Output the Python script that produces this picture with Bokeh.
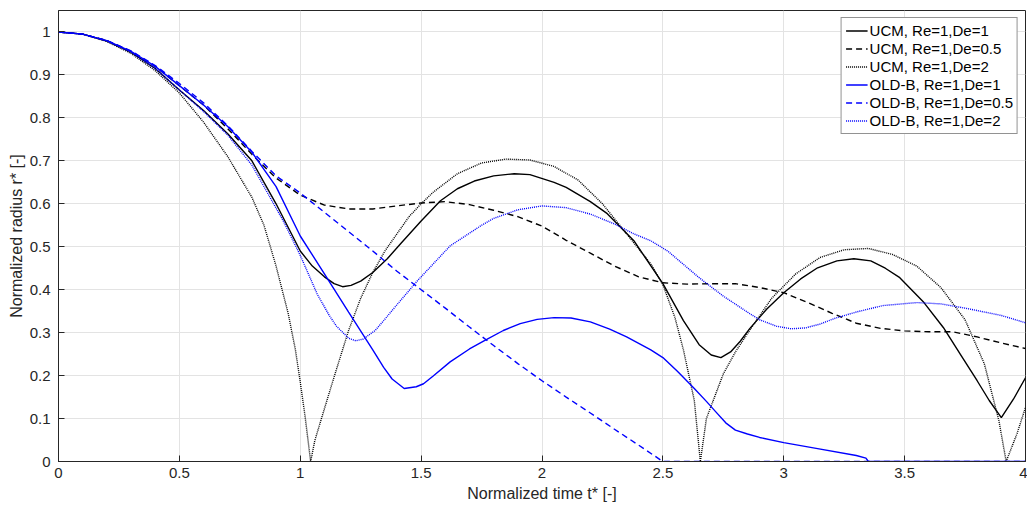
from bokeh.plotting import figure
from bokeh.models import Range1d, FixedTicker
from bokeh.embed import file_html
from bokeh.resources import INLINE

# ---------------- data ----------------
t_ucm_de1 = [0, 0.1, 0.2, 0.3, 0.4, 0.5, 0.6, 0.7, 0.8, 0.9, 1.0, 1.05, 1.1, 1.14, 1.175, 1.21, 1.25, 1.3,
             1.36, 1.415, 1.5, 1.58, 1.65, 1.72, 1.8, 1.885, 1.95, 2.05, 2.1, 2.2, 2.27, 2.38, 2.5, 2.585,
             2.65, 2.7, 2.74, 2.78, 2.82, 2.86, 2.93, 3.0, 3.07, 3.14, 3.22, 3.29, 3.36, 3.42, 3.48, 3.58,
             3.66, 3.73, 3.8, 3.85, 3.9, 3.95, 4.0]
r_ucm_de1 = [1.0, 0.995, 0.979, 0.953, 0.915, 0.865, 0.817, 0.763, 0.700, 0.600, 0.490, 0.455, 0.430,
             0.414, 0.407, 0.410, 0.420, 0.440, 0.472, 0.507, 0.560, 0.607, 0.635, 0.653, 0.665, 0.670,
             0.668, 0.650, 0.638, 0.605, 0.577, 0.514, 0.414, 0.328, 0.272, 0.248, 0.242, 0.255, 0.280,
             0.310, 0.355, 0.393, 0.425, 0.451, 0.467, 0.472, 0.467, 0.450, 0.428, 0.370, 0.312, 0.250,
             0.188, 0.142, 0.102, 0.145, 0.195]

t_ucm_de05 = [0, 0.1, 0.2, 0.3, 0.4, 0.5, 0.6, 0.7, 0.8, 0.9, 1.0, 1.1, 1.2, 1.3, 1.4, 1.5, 1.6, 1.7, 1.8,
              1.9, 2.0, 2.1, 2.2, 2.3, 2.4, 2.5, 2.6, 2.7, 2.8, 2.9, 3.0, 3.1, 3.2, 3.3, 3.4, 3.5, 3.6,
              3.7, 3.8, 3.9, 4.0]
r_ucm_de05 = [1.0, 0.995, 0.980, 0.955, 0.920, 0.875, 0.830, 0.775, 0.715, 0.660, 0.620, 0.597, 0.588,
              0.588, 0.595, 0.602, 0.605, 0.598, 0.585, 0.570, 0.548, 0.515, 0.485, 0.455, 0.430, 0.416,
              0.413, 0.414, 0.414, 0.405, 0.393, 0.370, 0.345, 0.322, 0.310, 0.304, 0.302, 0.302, 0.290,
              0.276, 0.263]

t_ucm_de2 = [0, 0.1, 0.2, 0.3, 0.4, 0.5, 0.6, 0.7, 0.8, 0.85, 0.9, 0.95, 0.98, 1.0, 1.02, 1.043, 1.06,
             1.085, 1.12, 1.15, 1.2, 1.25, 1.3, 1.35, 1.4, 1.45, 1.5, 1.55, 1.65, 1.75, 1.85, 1.95, 2.05,
             2.15, 2.25, 2.35, 2.45, 2.5, 2.55, 2.585, 2.63, 2.655, 2.68, 2.75, 2.8, 2.85, 2.95, 3.05,
             3.15, 3.25, 3.35, 3.45, 3.55, 3.65, 3.75, 3.83, 3.89, 3.92, 3.965, 4.0]
r_ucm_de2 = [1.0, 0.995, 0.978, 0.950, 0.910, 0.858, 0.790, 0.710, 0.615, 0.550, 0.455, 0.345, 0.260,
             0.185, 0.105, 0.0, 0.048, 0.095, 0.160, 0.215, 0.305, 0.380, 0.440, 0.490, 0.530, 0.570,
             0.600, 0.627, 0.670, 0.695, 0.704, 0.702, 0.687, 0.655, 0.600, 0.530, 0.460, 0.412, 0.335,
             0.260, 0.142, 0.0, 0.100, 0.204, 0.255, 0.298, 0.380, 0.437, 0.475, 0.493, 0.496, 0.482,
             0.455, 0.405, 0.330, 0.227, 0.095, 0.0, 0.065, 0.126]

t_old_de1 = [0, 0.1, 0.2, 0.3, 0.4, 0.5, 0.6, 0.7, 0.8, 0.9, 1.0, 1.1, 1.2, 1.3, 1.345, 1.38, 1.43, 1.48,
             1.51, 1.55, 1.62, 1.7, 1.76, 1.84, 1.91, 1.98, 2.05, 2.12, 2.2, 2.28, 2.35, 2.45, 2.5, 2.56,
             2.63, 2.68, 2.72, 2.76, 2.8, 2.85, 2.9, 3.0, 3.14, 3.3, 3.34, 3.35, 4.0]
r_old_de1 = [1.0, 0.995, 0.980, 0.955, 0.920, 0.875, 0.830, 0.780, 0.720, 0.640, 0.525, 0.437, 0.348,
             0.260, 0.219, 0.192, 0.170, 0.174, 0.181, 0.199, 0.232, 0.262, 0.281, 0.305, 0.321, 0.331,
             0.335, 0.334, 0.325, 0.308, 0.290, 0.260, 0.242, 0.210, 0.170, 0.140, 0.115, 0.090, 0.073,
             0.064, 0.056, 0.044, 0.030, 0.014, 0.008, 0.0, 0.0]

t_old_de05 = [0, 0.1, 0.2, 0.3, 0.4, 0.5, 0.6, 0.7, 0.8, 0.9, 1.0, 1.1, 1.2, 1.3, 1.4, 1.5, 1.6, 1.7,
              1.8, 1.9, 2.0, 2.1, 2.2, 2.3, 2.4, 2.5, 4.0]
r_old_de05 = [1.0, 0.995, 0.980, 0.956, 0.922, 0.880, 0.835, 0.782, 0.722, 0.665, 0.625, 0.580, 0.535,
              0.490, 0.443, 0.400, 0.357, 0.313, 0.270, 0.228, 0.188, 0.150, 0.113, 0.075, 0.038, 0.0, 0.0]

t_old_de2 = [0, 0.1, 0.2, 0.3, 0.4, 0.5, 0.6, 0.7, 0.8, 0.93, 1.0, 1.07, 1.12, 1.15, 1.2, 1.23, 1.26,
             1.31, 1.345, 1.4, 1.485, 1.62, 1.75, 1.8, 1.9, 2.0, 2.1, 2.2, 2.3, 2.38, 2.45, 2.52, 2.65,
             2.75, 2.86, 2.9, 2.97, 3.03, 3.09, 3.15, 3.21, 3.3, 3.41, 3.55, 3.65, 3.76, 3.9, 4.0]
r_old_de2 = [1.0, 0.995, 0.979, 0.953, 0.915, 0.865, 0.815, 0.760, 0.690, 0.560, 0.480, 0.390, 0.340,
             0.315, 0.287, 0.281, 0.285, 0.305, 0.328, 0.365, 0.421, 0.502, 0.550, 0.566, 0.586, 0.595,
             0.591, 0.576, 0.553, 0.530, 0.514, 0.490, 0.428, 0.385, 0.344, 0.330, 0.315, 0.309, 0.311,
             0.320, 0.333, 0.348, 0.363, 0.370, 0.367, 0.356, 0.340, 0.323]

series_labels = ["UCM, Re=1,De=1", "UCM, Re=1,De=0.5", "UCM, Re=1,De=2",
                 "OLD-B, Re=1,De=1", "OLD-B, Re=1,De=0.5", "OLD-B, Re=1,De=2"]

x_ticks = [0, 0.5, 1, 1.5, 2, 2.5, 3, 3.5, 4]
x_tick_labels = ["0", "0.5", "1", "1.5", "2", "2.5", "3", "3.5", "4"]
y_ticks = [0, 0.1, 0.2, 0.3, 0.4, 0.5, 0.6, 0.7, 0.8, 0.9, 1.0]
y_tick_labels = ["0", "0.1", "0.2", "0.3", "0.4", "0.5", "0.6", "0.7", "0.8", "0.9", "1"]

# ---------------- figure ----------------
FONT = "Liberation Sans"
AX = "#262626"
GRID = "#e3e3e3"

p = figure(width=1027, height=509, output_backend="svg", toolbar_location=None,
           x_range=Range1d(0, 4), y_range=Range1d(0, 1.05),
           min_border_left=58, min_border_right=2, min_border_top=10, min_border_bottom=48,
           background_fill_color="white", border_fill_color="white")
p.outline_line_color = AX
p.outline_line_width = 1

for ax in (p.xaxis[0], p.yaxis[0]):
    ax.axis_line_color = AX
    ax.major_tick_line_color = AX
    ax.major_tick_in = 6
    ax.major_tick_out = 0
    ax.minor_tick_line_color = None
    ax.major_label_text_font = FONT
    ax.major_label_text_font_size = "15px"
    ax.major_label_text_color = AX
    ax.axis_label_text_font = FONT
    ax.axis_label_text_font_size = "16px"
    ax.axis_label_text_font_style = "normal"
    ax.axis_label_text_color = AX

p.xaxis[0].ticker = FixedTicker(ticks=x_ticks)
p.yaxis[0].ticker = FixedTicker(ticks=y_ticks)
p.xaxis[0].major_label_overrides = {t: s for t, s in zip(x_ticks, x_tick_labels)}
p.yaxis[0].major_label_overrides = {t: s for t, s in zip(y_ticks, y_tick_labels)}
p.xaxis[0].axis_label = "Normalized time t* [-]"
p.yaxis[0].axis_label = "Normalized radius r* [-]"
p.xaxis[0].major_label_standoff = 6
p.yaxis[0].major_label_standoff = 8
p.xaxis[0].axis_label_standoff = 4
p.yaxis[0].axis_label_standoff = 2

p.xgrid.ticker = FixedTicker(ticks=x_ticks)
p.ygrid.ticker = FixedTicker(ticks=y_ticks)
p.xgrid.grid_line_color = GRID
p.ygrid.grid_line_color = GRID

series = [
    (t_ucm_de1, r_ucm_de1, "black", "solid"),
    (t_ucm_de05, r_ucm_de05, "black", "6 4"),
    (t_ucm_de2, r_ucm_de2, "black", "1 1"),
    (t_old_de1, r_old_de1, "#0000ff", "solid"),
    (t_old_de05, r_old_de05, "#0000ff", "6 4"),
    (t_old_de2, r_old_de2, "#0000ff", "1 1"),
]
for (tx, ry, col, dash), lab in zip(series, series_labels):
    p.line(tx, ry, line_color=col, line_width=1.4, line_dash=dash, legend_label=lab)

lg = p.legend[0]
lg.location = "top_right"
lg.margin = 7
lg.label_text_font = FONT
lg.label_text_font_size = "15px"
lg.label_text_color = "black"
lg.glyph_width = 22
lg.glyph_height = 17
lg.label_height = 17
lg.label_standoff = 2
lg.spacing = 1
lg.padding = 4
lg.border_line_color = AX
lg.border_line_width = 1
lg.background_fill_alpha = 1.0

open("out.html", "w").write(file_html(p, INLINE))
